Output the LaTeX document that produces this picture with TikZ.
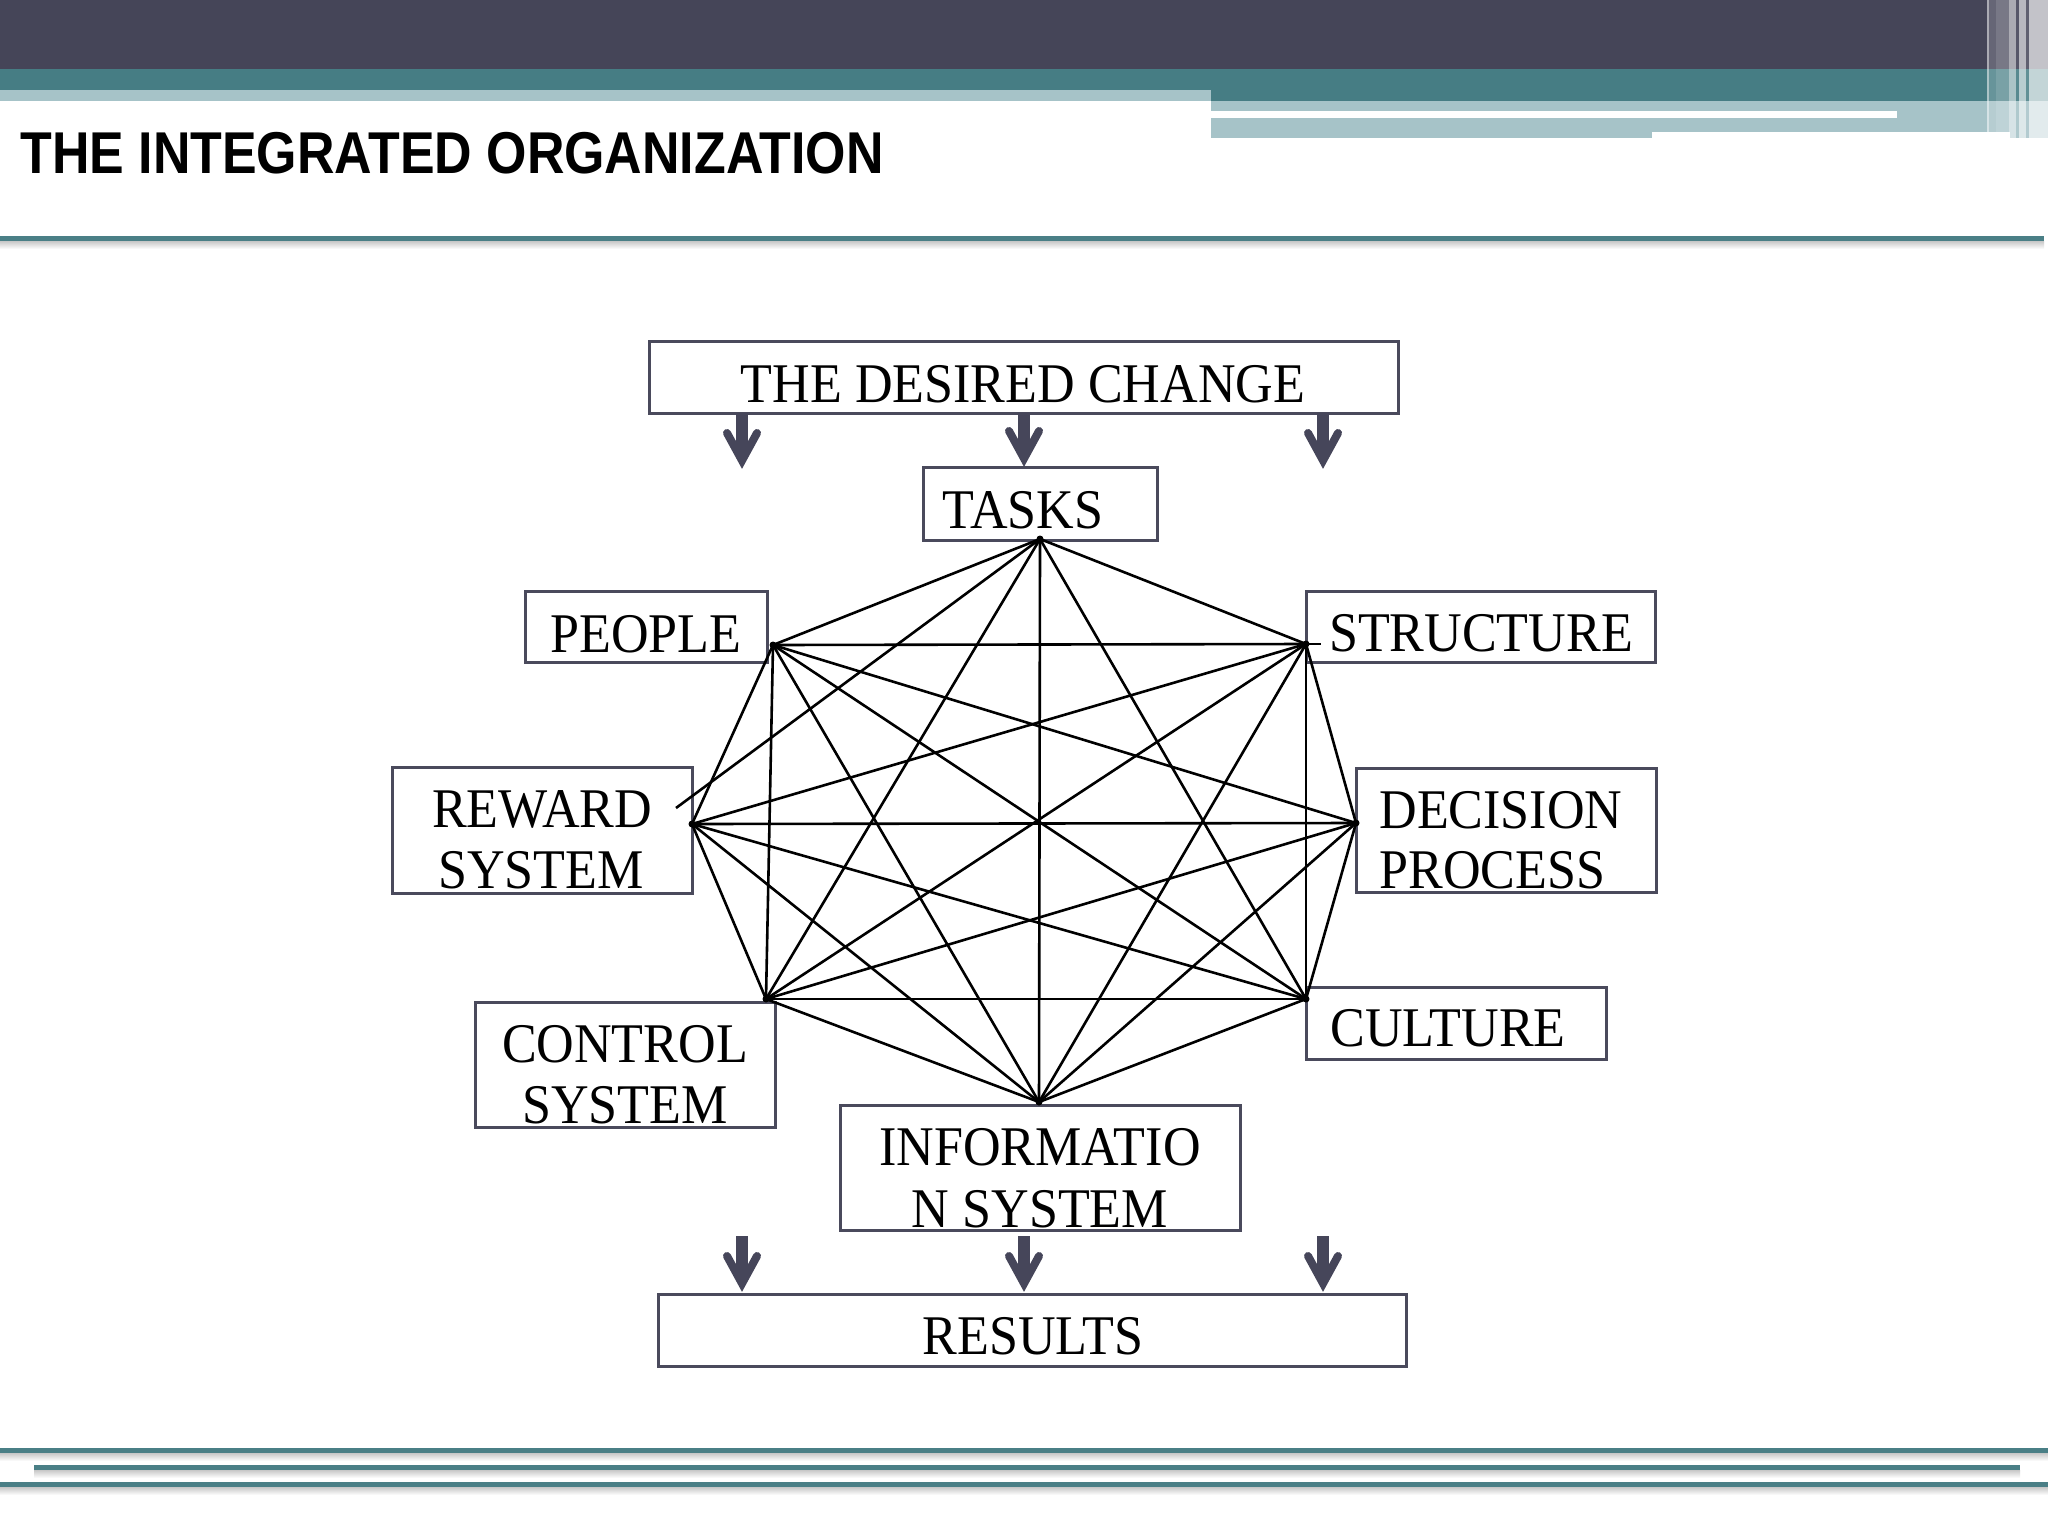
\documentclass[tikz,border=0pt]{standalone}
\usepackage{fontspec}
\newfontfamily\boxfont[FakeStretch=0.93]{Liberation Serif}
\newfontfamily\titlefont[FakeStretch=0.88]{Liberation Sans}
\usetikzlibrary{fit,calc}
\definecolor{bandDark}{HTML}{454558}
\definecolor{bandTeal}{HTML}{467D84}
\definecolor{bandLight}{HTML}{A6C3C8}
\definecolor{lineTeal}{HTML}{4A7F86}
\definecolor{boxLine}{HTML}{4A4A5C}
\definecolor{arrowCol}{HTML}{46465A}
\begin{document}
\begin{tikzpicture}[x=0.5pt,y=-0.5pt,
  box/.style={draw=boxLine, line width=1.5pt, inner sep=0pt, outer sep=0pt},
  lbl/.style={font=\boxfont\fontsize{28pt}{30pt}\selectfont, inner sep=0pt, anchor=base},
  lblw/.style={lbl, anchor=base west},
  link/.style={draw=black, line width=1.3pt},
  arrshaft/.style={draw=arrowCol, line width=6pt},
  arrhead/.style={draw=arrowCol, line width=4pt, line cap=round, line join=miter},
  shadowband/.style={top color=black!22, bottom color=white, draw=none}
]
\useasboundingbox (0,0) rectangle (2048,1536);
\fill[white] (0,0) rectangle (2048,1536);

% ---------- top banner ----------
\fill[bandDark] (0,0) rectangle (2048,69);
\fill[bandTeal] (0,69) rectangle (2048,90);
\fill[bandLight] (0,90) rectangle (1211,100.7);
\fill[bandTeal] (1211,90) rectangle (2048,100.7);
\fill[bandLight] (1211,100.7) rectangle (2048,138.3);
\fill[white] (1211,111) rectangle (1897,117.7);
\fill[white] (1652,131.7) rectangle (2010,138.3);
% right-hand vertical stripes
\fill[white,opacity=0.55] (1987,0) rectangle (1989,138.3);
\fill[white,opacity=0.18] (1989,0) rectangle (1996,138.3);
\fill[white,opacity=0.28] (1996,0) rectangle (2009,138.3);
\fill[white,opacity=0.55] (2009,0) rectangle (2016,138.3);
\fill[white,opacity=0.10] (2016,0) rectangle (2019,138.3);
\fill[white,opacity=0.62] (2019,0) rectangle (2026,138.3);
\fill[white,opacity=0.15] (2026,0) rectangle (2029,138.3);
\fill[white,opacity=0.68] (2029,0) rectangle (2048,138.3);

% title
\node[font=\titlefont\bfseries\fontsize{29.5pt}{32pt}\selectfont, anchor=base west, inner sep=0pt] (title) at (20,173) {THE INTEGRATED ORGANIZATION};

% title underline
\fill[lineTeal] (0,236) rectangle (2044,241);
\shade[shadowband] (0,241) rectangle (2044,249);

% bottom lines
\fill[lineTeal] (0,1448) rectangle (2048,1453);
\shade[shadowband] (0,1453) rectangle (2048,1461);
\fill[lineTeal] (34,1465) rectangle (2020,1470);
\shade[shadowband] (34,1470) rectangle (2020,1478);
\fill[lineTeal] (0,1482) rectangle (2048,1487);
\shade[shadowband] (0,1487) rectangle (2048,1495);

% ---------- boxes ----------
\node[box, fit={(649,341) (1398,413)}] (desired) {};
\node[box, fit={(923,467) (1157,540)}] (tasks) {};
\node[box, fit={(525,591) (767,662)}] (people) {};
\node[box, fit={(392,767) (692,893)}] (reward) {};
\node[box, fit={(1306,591) (1655,662)}] (structure) {};
\node[box, fit={(1356,768) (1656,892)}] (decision) {};
\node[box, fit={(1306,987) (1606,1059)}] (culture) {};
\node[box, fit={(475,1002) (775,1127)}] (control) {};
\node[box, fit={(840,1105) (1240,1230)}] (info) {};
\node[box, fit={(658,1294) (1406,1366)}] (results) {};

% ---------- labels ----------
\node[lbl] (tDesired) at (1023,402) {THE DESIRED CHANGE};
\node[lbl] (tTasks) at (1023,528) {TASKS};
\node[lbl] (tPeople) at (646,652) {PEOPLE};
\node[lbl] (tRewardA) at (542,827) {REWARD};
\node[lbl] (tRewardB) at (541,888) {SYSTEM};
\node[lbl] (tStructure) at (1481,651) {STRUCTURE};
\node[lblw] (tDecisionA) at (1379,828) {DECISION};
\node[lblw] (tDecisionB) at (1379,888) {PROCESS};
\node[lbl] (tControlA) at (625,1062) {CONTROL};
\node[lbl] (tControlB) at (625,1123) {SYSTEM};
\node[lbl] (tCulture) at (1448,1046) {CULTURE};
\node[lbl] (tInfoA) at (1040,1165) {INFORMATIO};
\node[lbl] (tInfoB) at (1040,1227) {N SYSTEM};
\node[lbl] (tResults) at (1033,1354) {RESULTS};

% ---------- network vertices ----------
\coordinate (vT) at (1040,539);
\coordinate (vP) at (773,645);
\coordinate (vS) at (1306,644);
\coordinate (vD) at (1356,823);
\coordinate (vC) at (1306,999);
\coordinate (vI) at (1039,1102);
\coordinate (vCo) at (766,999);
\coordinate (vR) at (692,824);
\coordinate (stubR) at (676,808);
\coordinate (tickS) at (1321,644);

\foreach \a/\b in {vT/vP, vT/vS, vT/vC, vT/vI, vT/vCo, vT/stubR,
                   vP/vS, vP/vD, vP/vC, vP/vI, vP/vCo, vP/vR,
                   vS/vD, vS/vC, vS/vI, vS/vCo, vS/vR,
                   vD/vC, vD/vI, vD/vCo, vD/vR,
                   vC/vI, vC/vCo, vC/vR,
                   vI/vCo, vI/vR,
                   vCo/vR, vS/tickS}
  \draw[link] (\a) -- (\b);

\foreach \v in {vT,vP,vS,vD,vC,vI,vCo,vR}
  \fill[black] (\v) circle (3.5);

% ---------- block arrows ----------
\coordinate (a1s) at (742,413);  \coordinate (a1e) at (742,469);
\coordinate (a2s) at (1024,413); \coordinate (a2e) at (1024,467);
\coordinate (a3s) at (1323,413); \coordinate (a3e) at (1323,469);
\coordinate (b1s) at (742,1236);  \coordinate (b1e) at (742,1292);
\coordinate (b2s) at (1024,1236); \coordinate (b2e) at (1024,1292);
\coordinate (b3s) at (1323,1236); \coordinate (b3e) at (1323,1292);
\foreach \s/\e in {a1s/a1e, a2s/a2e, a3s/a3e, b1s/b1e, b2s/b2e, b3s/b3e} {
  \draw[arrshaft] (\s) -- ($(\e)+(0,-11)$);
  \draw[arrhead] ($(\e)+(-15,-36)$) -- ($(\e)+(0,-8.5)$) -- ($(\e)+(15,-36)$);
}
\end{tikzpicture}
\end{document}
